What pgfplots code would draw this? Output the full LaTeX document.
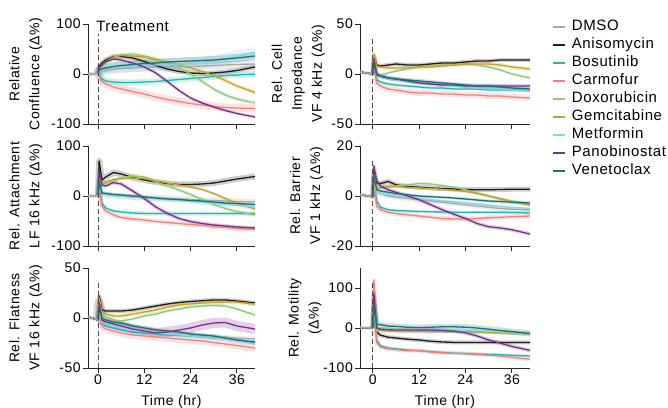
\documentclass[border=0pt]{standalone}
\usepackage{fontspec}
\setmainfont{Liberation Sans}[LetterSpace=4]
\usepackage{pgfplots}
\usepackage{pgfplotstable}
\pgfplotsset{compat=1.18}
\definecolor{cdm}{RGB}{168,168,168}
\definecolor{can}{RGB}{30,30,30}
\definecolor{cbo}{RGB}{30,185,178}
\definecolor{cca}{RGB}{242,128,126}
\definecolor{cdo}{RGB}{140,202,120}
\definecolor{cge}{RGB}{200,162,32}
\definecolor{cme}{RGB}{130,210,240}
\definecolor{cpa}{RGB}{122,46,142}
\definecolor{cve}{RGB}{24,118,110}
\newcommand\fsz{\fontsize{14}{20}\selectfont}
\newcommand\lsz{\fontsize{15}{20}\selectfont}

\pgfplotstableread{
t dm an bo ca do ge me pa ve
-3.3 0 0 0 0 0 0 0 0 0
0 0 0 0 0 0 0 0 0 0
0.3 5 15 -3 -5 8 10 5 12 8
1 6 22 -10 -15 15 18 8 18 10
2 8 28 -14 -20 22 25 10 25 12
4 10 35 -16 -26 32 34 13 30 15
6 11 35 -17 -30 38 37 14 28 17
9 12 32 -17 -35 40 36 16 22 19
12 13 25 -16 -40 36 34 17 14 21
15 14 17 -15 -46 30 28 18 2 22
18 14 10 -13 -51 22 23 19 -15 24
21 15 5 -11 -55 12 18 20 -33 25
24 15 2 -9 -59 0 12 21 -48 26
27 16 1 -7 -62 -15 5 23 -58 27
30 17 2 -5 -65 -30 -3 26 -66 28
33 18 4 -3 -67 -42 -13 30 -73 30
36 19 7 -2 -68 -50 -24 35 -79 32
40.7 20 14 0 -69 -58 -37 43 -86 36
}\tA

\pgfplotstableread{
t dm an bo ca do ge me pa ve
-3.3 2 2 2 2 2 2 2 2 2
0 0 0 0 0 0 0 0 0 0
0.3 8 18 10 12 10 20 8 15 10
1 0 9 -6 -9 -2 8 -1 0 -1
2 -2 8 -8 -12 -1 7 -3 -2 -2
4 -4 9 -10 -15 1 6 -5 -4 -4
6 -5 10 -11 -16 3 6 -6 -5 -5
9 -7 9 -12 -18 5 6 -8 -7 -6
12 -8 9 -13 -19 7 7 -9 -9 -7
15 -9 10 -14 -19 8 7 -10 -10 -8
18 -10 11 -14 -20 9 8 -11 -11 -9
21 -11 11 -15 -20 9 9 -12 -11 -10
24 -12 12 -15 -21 10 10 -13 -12 -11
27 -13 13 -15 -21 9 10 -14 -12 -12
30 -14 13 -16 -22 7 10 -15 -12 -12
33 -14 14 -16 -22 4 9 -15 -12 -13
36 -15 14 -16 -23 0 7 -16 -12 -14
40.7 -16 14 -17 -24 -4 5 -17 -12 -15
}\tB

\pgfplotstableread{
t dm an bo ca do ge me pa ve
-3.3 0 0 0 0 0 0 0 0 0
0 0 0 0 0 0 0 0 0 0
0.3 30 70 20 10 40 45 30 52 30
1 5 32 -15 -20 22 25 5 22 6
2 3 38 -24 -30 25 28 3 20 5
4 1 47 -30 -38 30 33 1 27 3
6 0 44 -32 -43 36 35 0 24 2
9 -2 37 -34 -46 40 36 -2 10 0
12 -3 32 -35 -48 38 35 -3 -5 -2
15 -4 28 -35 -51 28 30 -5 -22 -4
18 -5 25 -35 -53 20 26 -7 -35 -6
21 -6 23 -35 -55 12 22 -9 -45 -7
24 -7 23 -35 -57 3 18 -11 -51 -9
27 -8 24 -35 -59 -7 13 -13 -55 -10
30 -9 26 -35 -61 -17 5 -15 -58 -12
33 -10 30 -35 -63 -25 -5 -17 -60 -14
36 -11 34 -35 -65 -31 -15 -19 -62 -15
40.7 -12 39 -35 -67 -38 -26 -22 -64 -17
}\tC

\pgfplotstableread{
t dm an bo ca do ge me pa ve
-3.3 0.5 0.5 0.5 0.5 0.5 0.5 0.5 0.5 0.5
0 -0.3 -0.3 -0.3 -0.3 -0.3 -0.3 -0.3 -0.3 -0.3
0.3 6 9 6 5 8 10 6 12 8
1 1.5 5 -2 -4 3 3 1.5 6 2.5
2 1 5 -4.5 -5.5 3 3.5 1 4 2
4 0 5.8 -5.5 -6.5 3.5 4 0.5 2.5 1.5
6 -0.5 4.5 -5.8 -7 4 3.8 0 1.5 1
9 -1 3.8 -6 -7.5 4.5 3.5 -0.5 0 0.5
12 -1.5 3.5 -6.2 -8 5 3.2 -1 -1.5 0
15 -2 3.2 -6.3 -8.5 4.8 3 -1.5 -3.5 -0.3
18 -2.5 3 -6.4 -9 4.2 2.7 -2 -5.5 -0.5
21 -3 2.8 -6.5 -9.2 3.5 2.3 -2.3 -7.3 -0.8
24 -3.5 2.6 -6.5 -9.2 2.5 1.8 -2.7 -9 -1.2
27 -4 2.5 -6.5 -9 1.2 1 -3.2 -11 -1.6
30 -4.5 2.5 -6.5 -8.7 0 0 -3.7 -12.3 -2
33 -5 2.6 -6.5 -8.5 -1 -1.2 -4.2 -12.8 -2.2
36 -5.3 2.7 -6.6 -8.3 -2 -2.3 -4.6 -13.5 -2.5
40.7 -5.6 2.7 -6.8 -8 -3 -3.7 -5 -15.2 -2.8
}\tD

\pgfplotstableread{
t dm an bo ca do ge me pa ve
-3.3 2 2 2 2 2 2 2 2 2
0 -2 -2 -2 -2 -2 -2 -2 -2 -2
0.3 10 22 5 3 12 20 8 15 10
1 -2 8 -5 -8 3 6 -4 -2 0
2 -3 7 -8 -11 1 4 -6 -4 -2
4 -5 7 -10 -13 -2 2 -8 -6 -4
6 -6 7 -12 -15 -3 2 -9 -8 -5
9 -8 8 -14 -17 -1 4 -11 -11 -8
12 -10 10 -15 -18 2 6 -13 -13 -10
15 -12 12 -16 -19 4 8 -15 -15 -12
18 -13 14 -17 -20 7 11 -16 -14 -13
21 -15 15.5 -17.5 -21 9 13 -17 -12 -14
24 -16 16.5 -18 -22 11 14 -18 -10 -16
27 -17 17.3 -19 -23 12 15 -19 -7 -17
30 -18 18 -20 -24.5 12.5 15.5 -20 -5 -18
33 -19 18 -21 -26 12 16 -21 -4.5 -20
36 -20 17 -22.5 -27.5 9 16 -23 -8 -22
40.7 -21 15 -25 -30 3 14 -26 -11 -24
}\tE

\pgfplotstableread{
t dm an bo ca do ge me pa ve
-3.3 1 1 1 1 1 1 1 1 1
0 0 0 0 0 0 0 0 0 0
0.3 40 90 55 120 60 90 50 85 55
1 0 -10 -30 -35 -5 -3 2 0 10
2 -2 -18 -45 -48 -7 -5 0 -3 8
4 -3 -23 -50 -52 -8 -6 -2 -4 5
6 -4 -25 -52 -54 -9 -7 -3 -5 4
9 -5 -28 -55 -57 -9 -7 -3 -5 2
12 -5 -30 -57 -56 -9 -8 -3 -5 1
15 -6 -33 -59 -60 -10 -8 -4 -5 2
18 -7 -35 -61 -62 -10 -8 -4 -6 3
21 -8 -36 -63 -63 -10 -8 -5 -8 3
24 -9 -36 -64 -64 -11 -9 -6 -12 2
27 -10 -36 -65 -66 -11 -9 -7 -20 0
30 -11 -36 -66 -68 -12 -10 -8 -30 -3
33 -12 -36 -67 -70 -13 -10 -9 -38 -6
36 -13 -36 -68 -73 -14 -11 -10 -46 -9
40.7 -14 -36 -70 -78 -15 -11 -12 -56 -14
}\tF

\newcommand\band[4]{\addplot[#1, line width=#3, opacity=0.22, forget plot, line join=round, restrict x to domain=0:50] table[x=t,y=#2]{#4};}
\newcommand\crv[3]{\addplot[#1, line width=1.3pt, line join=round] table[x=t,y=#2]{#3};}
\newcommand\curves[1]{%
\addplot[cdm, line width=4pt, opacity=0.3, forget plot, restrict x to domain=-4:0] table[x=t,y=dm]{#1};%
\crv{cdm}{dm}{#1}\crv{can}{an}{#1}\crv{cbo}{bo}{#1}\crv{cca}{ca}{#1}\crv{cdo}{do}{#1}%
\crv{cge}{ge}{#1}\crv{cme}{me}{#1}\crv{cpa}{pa}{#1}\crv{cve}{ve}{#1}%
\addplot[cdm, line width=1.3pt, forget plot, restrict x to domain=-4:0] table[x=t,y=dm]{#1};}
\newcommand\treat[1]{\draw[black!70, line width=1pt, dash pattern=on 5pt off 3pt] ({axis cs:0,0}|-{rel axis cs:0,0}) -- ({axis cs:0,0}|-{rel axis cs:0,#1});}

\pgfplotsset{
 panel/.style={scale only axis, anchor=south west, height=100pt,
  axis x line*=bottom, axis y line*=left,
  axis line style={-, line width=0.8pt, black!85},
  tick align=outside, major tick length=5pt,
  tick style={line width=0.8pt, black!85},
  xtick={0,12,24,36}, xticklabels={}, minor tick num=0,
  ticklabel style={font=\fsz, inner sep=2pt},
  ylabel style={font=\fsz, align=center, inner sep=0pt, anchor=south},
  xlabel style={font=\fsz, inner sep=0pt, anchor=base, at={(axis description cs:0.5,-0.373)}},
  clip mode=individual,
  legend image code/.code={\draw[##1, line width=1.6pt] (0pt,0pt) -- (12pt,0pt);}},
 lp/.style={width=167pt, xmin=-2.6, xmax=40.7},
 rp/.style={width=170pt, xmin=-3.3, xmax=40.7},
}

\begin{document}
\begin{tikzpicture}[x=1pt,y=1pt]
\useasboundingbox (0,0) rectangle (668,407);
% Panel 1
\begin{axis}[panel, lp, at={(88pt,283pt)}, ymin=-100, ymax=100, ytick={-100,0,100}, yticklabels={-100,0,100},
 ylabel={Relative\\Confluence (Δ\%)}, ylabel style={at={(axis description cs:-0.272,0.5)}}]
\band{cdm}{dm}{8pt}{\tA}\band{can}{an}{5pt}{\tA}\band{cbo}{bo}{6pt}{\tA}\band{cca}{ca}{8pt}{\tA}\band{cdo}{do}{4pt}{\tA}
\band{cge}{ge}{4pt}{\tA}\band{cme}{me}{12pt}{\tA}\band{cpa}{pa}{3pt}{\tA}\band{cve}{ve}{8pt}{\tA}
\curves{\tA}
\treat{0.9}
\node[anchor=base west, inner sep=0pt, font=\fontsize{15}{18}\selectfont] at ({axis cs:-0.5,0}|-{rel axis cs:0,0.92}) {Treatment};
\end{axis}
% Panel 2
\begin{axis}[panel, rp, at={(360pt,283pt)}, ymin=-50, ymax=50, ytick={-50,0,50}, yticklabels={-50,0,50},
 ylabel={Rel. Cell\\Impedance\\VF 4 kHz (Δ\%)}, ylabel style={at={(axis description cs:-0.206,0.5)}},
 legend entries={DMSO,Anisomycin,Bosutinib,Carmofur,Doxorubicin,Gemcitabine,Metformin,Panobinostat,Venetoclax},
 legend cell align=left,
 legend style={at={(axis description cs:1.13,1.04)}, anchor=north west, draw=none, fill=none, font=\lsz,
  inner sep=0pt, row sep=4pt, column sep=6pt, nodes={inner sep=0pt, text height=10.5pt, text depth=3.5pt}}]
\band{cdm}{dm}{4pt}{\tB}\band{can}{an}{4pt}{\tB}\band{cbo}{bo}{3pt}{\tB}\band{cca}{ca}{6pt}{\tB}\band{cdo}{do}{3pt}{\tB}
\band{cge}{ge}{4pt}{\tB}\band{cme}{me}{3pt}{\tB}\band{cpa}{pa}{4pt}{\tB}\band{cve}{ve}{4pt}{\tB}
\curves{\tB}
\treat{0.875}
\end{axis}
% Panel 3
\begin{axis}[panel, lp, at={(88pt,161pt)}, ymin=-100, ymax=100, ytick={-100,0,100}, yticklabels={-100,0,100},
 ylabel={Rel. Attachment\\LF 16 kHz (Δ\%)}, ylabel style={at={(axis description cs:-0.272,0.5)}}]
\band{cdm}{dm}{6pt}{\tC}\band{can}{an}{6pt}{\tC}\band{cbo}{bo}{4pt}{\tC}\band{cca}{ca}{5pt}{\tC}\band{cdo}{do}{4pt}{\tC}
\band{cge}{ge}{3pt}{\tC}\band{cme}{me}{5pt}{\tC}\band{cpa}{pa}{4pt}{\tC}\band{cve}{ve}{3pt}{\tC}
\curves{\tC}
\treat{0.875}
\end{axis}
% Panel 4
\begin{axis}[panel, rp, at={(360pt,161pt)}, ymin=-20, ymax=20, ytick={-20,0,20}, yticklabels={-20,0,20},
 ylabel={Rel. Barrier\\VF 1 kHz (Δ\%)}, ylabel style={at={(axis description cs:-0.216,0.5)}}]
\band{cdm}{dm}{5pt}{\tD}\band{can}{an}{5pt}{\tD}\band{cbo}{bo}{3pt}{\tD}\band{cca}{ca}{5pt}{\tD}\band{cdo}{do}{3pt}{\tD}
\band{cge}{ge}{3pt}{\tD}\band{cme}{me}{3pt}{\tD}\band{cpa}{pa}{4pt}{\tD}\band{cve}{ve}{3pt}{\tD}
\curves{\tD}
\treat{0.875}
\end{axis}
% Panel 5
\begin{axis}[panel, lp, at={(88pt,39pt)}, ymin=-50, ymax=50, ytick={-50,0,50}, yticklabels={-50,0,50},
 xticklabels={0,12,24,36}, xlabel={Time (hr)},
 ylabel={Rel. Flatness\\VF 16 kHz (Δ\%)}, ylabel style={at={(axis description cs:-0.272,0.5)}}]
\band{cdm}{dm}{4pt}{\tE}\band{can}{an}{4pt}{\tE}\band{cbo}{bo}{3pt}{\tE}\band{cca}{ca}{8pt}{\tE}\band{cdo}{do}{3pt}{\tE}
\band{cge}{ge}{5pt}{\tE}\band{cme}{me}{5pt}{\tE}\band{cpa}{pa}{10pt}{\tE}\band{cve}{ve}{3pt}{\tE}
\curves{\tE}
\treat{0.875}
\end{axis}
% Panel 6
\begin{axis}[panel, rp, at={(360pt,39pt)}, ymin=-100, ymax=150, ytick={-100,0,100}, yticklabels={-100,0,100},
 xticklabels={0,12,24,36}, xlabel={Time (hr)},
 ylabel={Rel. Motility\\(Δ\%)}, ylabel style={at={(axis description cs:-0.225,0.5)}}]
\band{cdm}{dm}{3pt}{\tF}\band{can}{an}{4pt}{\tF}\band{cbo}{bo}{3pt}{\tF}\band{cca}{ca}{4pt}{\tF}\band{cdo}{do}{3pt}{\tF}
\band{cge}{ge}{3pt}{\tF}\band{cme}{me}{3pt}{\tF}\band{cpa}{pa}{4pt}{\tF}\band{cve}{ve}{6pt}{\tF}
\curves{\tF}
\treat{0.875}
\end{axis}
\end{tikzpicture}
\end{document}
